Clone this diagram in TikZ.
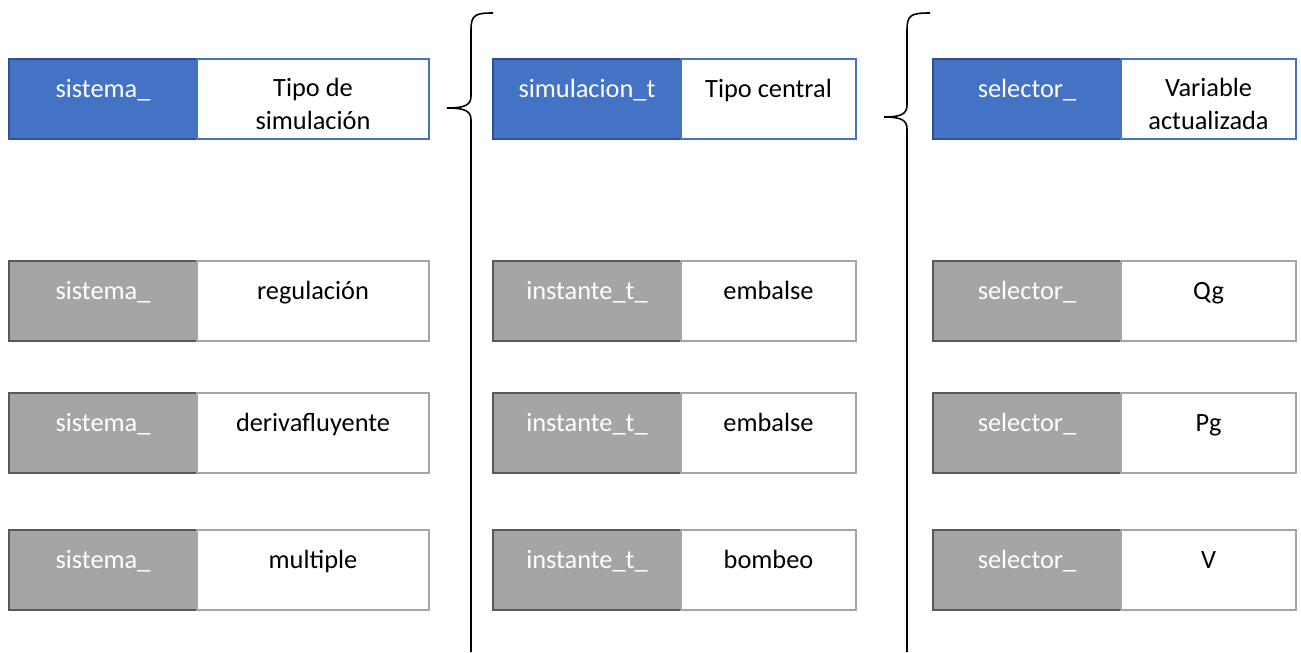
\documentclass[tikz,border=0pt]{standalone}
\usepackage{fontspec}
\setmainfont{Carlito}
\usepackage{tikz}
\usetikzlibrary{positioning}
\definecolor{azul}{HTML}{4472C4}
\definecolor{azulosc}{HTML}{2F528F}
\definecolor{gris}{HTML}{A5A5A5}
\definecolor{grisosc}{HTML}{595959}

\begin{document}
\begin{tikzpicture}[
	tipo/.style={minimum height=1.6cm, inner sep=0pt, outer sep=0pt, line width=1pt, align=center,
		text height=0.37cm, text depth=0.42cm, font=\fontsize{15}{19}\selectfont},
	clave/.style={tipo, minimum width=3.76cm, fill=azul, draw=azulosc, text=white},
	claveg/.style={tipo, minimum width=3.76cm, fill=gris, draw=grisosc, text=white},
	valor/.style={tipo, fill=white, draw=azul},
	valorg/.style={tipo, fill=white, draw=gris},
	doble/.style={text height={}, text depth={}, yshift=-0.1cm},
	llave/.style={black, line width=0.9pt}
]
\useasboundingbox (0,0) rectangle (26.02,13.04);

% primera columna
\node[clave] (S0) at (2.06,11.06) {sistema\_};
\node[valor, minimum width=4.64cm, right=0pt of S0] (V0) {};
\node[valor, draw=none, fill=none, doble] at (V0) {Tipo de\\simulación};
\node[claveg] (S1) at (2.06,7.02) {sistema\_};
\node[valorg, minimum width=4.64cm, right=0pt of S1] (V1) {regulación};
\node[claveg] (S2) at (2.06,4.38) {sistema\_};
\node[valorg, minimum width=4.64cm, right=0pt of S2] (V2) {derivafluyente};
\node[claveg] (S3) at (2.06,1.64) {sistema\_};
\node[valorg, minimum width=4.64cm, right=0pt of S3] (V3) {multiple};

% segunda columna
\node[clave] (I0) at (11.74,11.06) {simulacion\_t};
\node[valor, minimum width=3.5cm, right=0pt of I0] (C0) {Tipo central};
\node[claveg] (I1) at (11.74,7.02) {instante\_t\_};
\node[valorg, minimum width=3.5cm, right=0pt of I1] (C1) {embalse};
\node[claveg] (I2) at (11.74,4.38) {instante\_t\_};
\node[valorg, minimum width=3.5cm, right=0pt of I2] (C2) {embalse};
\node[claveg] (I3) at (11.74,1.64) {instante\_t\_};
\node[valorg, minimum width=3.5cm, right=0pt of I3] (C3) {bombeo};

% tercera columna
\node[clave] (L0) at (20.54,11.06) {selector\_};
\node[valor, minimum width=3.5cm, right=0pt of L0] (X0) {};
\node[valor, draw=none, fill=none, doble] at (X0) {Variable\\actualizada};
\node[claveg] (L1) at (20.54,7.02) {selector\_};
\node[valorg, minimum width=3.5cm, right=0pt of L1] (X1) {Qg};
\node[claveg] (L2) at (20.54,4.38) {selector\_};
\node[valorg, minimum width=3.5cm, right=0pt of L2] (X2) {Pg};
\node[claveg] (L3) at (20.54,1.64) {selector\_};
\node[valorg, minimum width=3.5cm, right=0pt of L3] (X3) {V};

% llaves
\draw[llave] (9.86,12.78) .. controls (9.5,12.78) and (9.42,12.74) .. (9.42,12.44) -- (9.42,11.12)
	.. controls (9.42,10.94) and (9.3,10.88) .. (8.94,10.88)
	.. controls (9.3,10.88) and (9.42,10.82) .. (9.42,10.64) -- (9.42,0);
\draw[llave] (18.6,12.78) .. controls (18.22,12.78) and (18.14,12.74) .. (18.14,12.44) -- (18.14,10.94)
	.. controls (18.14,10.76) and (18.02,10.70) .. (17.68,10.70)
	.. controls (18.02,10.70) and (18.14,10.64) .. (18.14,10.46) -- (18.14,0);

\end{tikzpicture}
\end{document}
